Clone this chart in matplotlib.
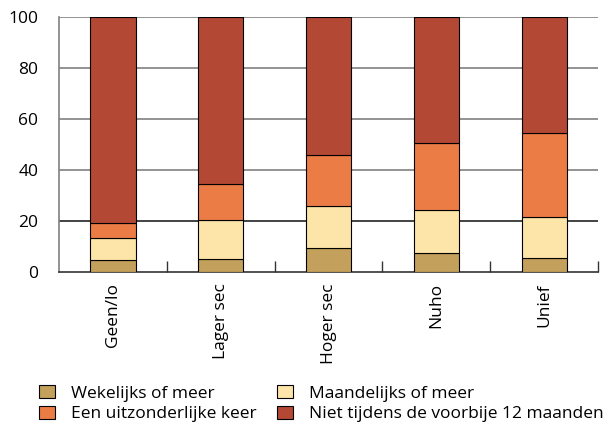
import matplotlib
matplotlib.use("Agg")
import matplotlib.pyplot as plt
import numpy as np

# data (percent)
categories = ["Geen/lo", "Lager sec", "Hoger sec", "Nuho", "Unief"]
wekelijks = [4.7, 5.0, 9.3, 7.3, 5.4]
maandelijks = [8.5, 15.5, 16.7, 16.9, 16.0]
uitzonderlijk = [5.9, 14.1, 19.9, 26.5, 33.2]
niet = [80.9, 65.4, 54.1, 49.3, 45.4]

series_labels = ["Wekelijks of meer", "Maandelijks of meer",
                 "Een uitzonderlijke keer", "Niet tijdens de voorbije 12 maanden"]
colors = ["#C3A05B", "#FDE5A9", "#EC7C46", "#B34835"]

plt.rcParams['font.family'] = ['Open Sans', 'DejaVu Sans']

fig = plt.figure(figsize=(6.03, 4.23), dpi=100)
ax = fig.add_axes([0.0978, 0.357, 0.894, 0.603])

x = np.arange(len(categories))
bottom = np.zeros(len(categories))
bars = []
for vals, lab, col in zip([wekelijks, maandelijks, uitzonderlijk, niet], series_labels, colors):
    b = ax.bar(x, vals, width=0.42, bottom=bottom, color=col, edgecolor="black",
               linewidth=0.8, label=lab, zorder=3)
    bars.append(b)
    bottom += np.array(vals)

ax.set_xlim(-0.5, 4.5)
ax.set_ylim(0, 100)
ax.set_yticks([0, 20, 40, 60, 80, 100])
ax.tick_params(axis='y', length=0, pad=15, labelsize=12.5)
ax.set_xticks(x)
ax.set_xticklabels(categories, rotation=90, fontsize=12.5)
ax.tick_params(axis='x', length=0, pad=8)
ax.set_xticks(np.arange(0.5, 5, 1), minor=True)
ax.tick_params(axis='x', which='minor', direction='in', length=8, width=1, color='#333333')

# grid
for yv in [20, 40, 60, 80, 100]:
    ax.axhline(yv, color='#222222' if yv == 20 else '#808080', linewidth=1.2, zorder=1)

ax.spines['right'].set_visible(False)
ax.spines['top'].set_visible(False)
ax.spines['left'].set_color('#808080')
ax.spines['left'].set_linewidth(1.2)
ax.spines['bottom'].set_color('#333333')
ax.spines['bottom'].set_linewidth(1.2)

# legend: two columns placed separately (fig.legend keeps both)
leg_kw = dict(loc='upper left', frameon=False, fontsize=12.5, handlelength=0.92,
              handleheight=0.8, handletextpad=0.95, labelspacing=0.24,
              borderpad=0, borderaxespad=0)
fig.legend([bars[0], bars[2]], [series_labels[0], series_labels[2]],
           bbox_to_anchor=(0.0647, 0.090), **leg_kw)
fig.legend([bars[1], bars[3]], [series_labels[1], series_labels[3]],
           bbox_to_anchor=(0.459, 0.090), **leg_kw)

fig.savefig("out.png", dpi=100)
